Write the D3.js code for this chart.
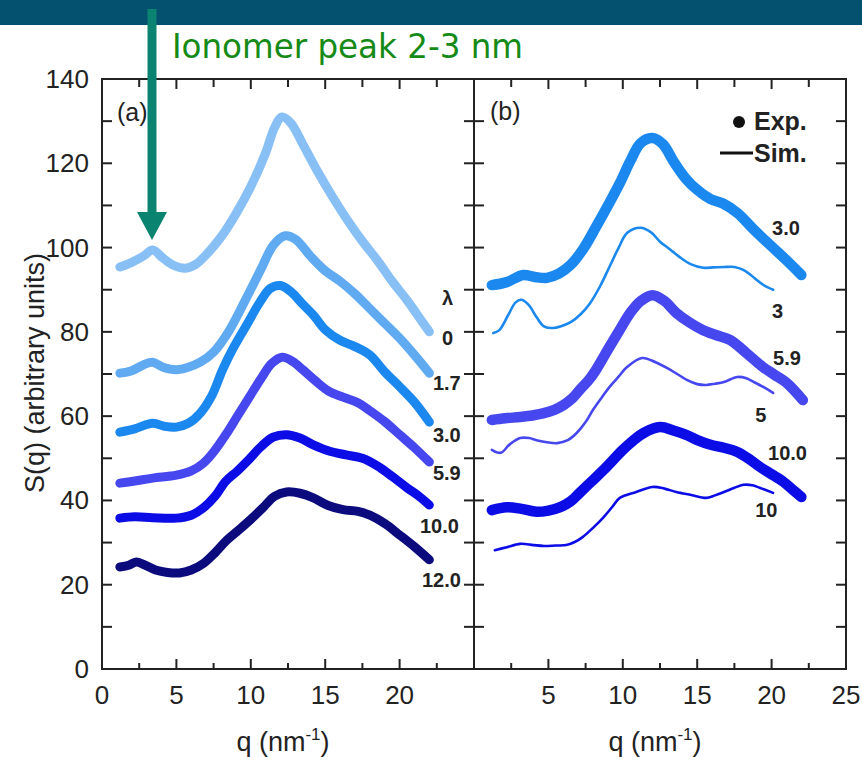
<!DOCTYPE html>
<html>
<head>
<meta charset="utf-8">
<script src="https://cdn.jsdelivr.net/npm/d3@7"></script>
<style>
  body { margin: 0; background: #fff; }
  text { font-family: "Liberation Sans", Arial, sans-serif; fill: #222; }
</style>
</head>
<body>
<div id="graph"></div>
<script>
// ---- data ----
// panel (a): experimental S(q) for each water content lambda
var lambdaA = ["0", "1.7", "3.0", "5.9", "10.0", "12.0"];
var expA_0 = [[1.2,95.4],[2,96.5],[2.8,98],[3.4,99.4],[4.1,97.5],[4.8,95.8],[5.6,95.1],[6.3,96],[7,98.3],[8,102.5],[9,108],[10,114.5],[11,122.5],[11.6,128.5],[12.1,131],[12.7,129.5],[13.5,124.5],[14.5,118],[15.5,112],[16.5,106.5],[17.5,101.5],[18.5,97],[19.5,92],[20.5,87.5],[21.5,82.5],[22,80]];
var expA_17 = [[1.2,70.2],[2,70.8],[2.8,72.2],[3.4,72.8],[4.1,71.6],[5,71],[5.8,71.6],[6.6,72.8],[7.5,75.2],[8.5,80],[9.7,88],[10.7,95],[11.5,100.5],[12.3,102.8],[13,102],[14,98],[15,94.5],[16,92],[17,89],[18,85.5],[19,82],[20,78.5],[21,74.5],[22,70.2]];
var expA_30 = [[1.2,56.2],[2.2,57],[3.4,58.3],[4.2,57.6],[5,57.4],[5.8,58.3],[6.6,60.7],[7.4,65],[8.1,71],[8.8,76],[9.7,81.5],[10.6,87],[11.3,90.3],[12,91],[12.7,89.5],[13.5,86.5],[14.2,84],[15,80.5],[16,78],[17,76.5],[18,74.5],[19,70.5],[20,67],[21,63.3],[22,58.6]];
var expA_59 = [[1.2,44.1],[2.2,44.6],[3.4,45.3],[5,46],[6,47],[6.8,48.8],[7.5,51.5],[8.3,55.5],[9.1,60],[9.9,64.5],[10.7,69],[11.4,72.5],[12.1,74],[12.8,73],[13.5,71],[14.3,68.5],[15.2,66],[16.2,64.5],[17.2,63.2],[18,61.3],[19,58.7],[20,55.6],[21,52.5],[22,49.1]];
var expA_100 = [[1.2,35.8],[2.2,36.1],[3.4,35.9],[5,35.8],[6,36.5],[6.8,38.2],[7.6,41],[8.3,44.5],[9.1,47],[9.9,49.8],[10.7,52.8],[11.5,55],[12.4,55.6],[13.3,54.8],[14.2,53.2],[15.2,51.8],[16.4,50.8],[17.5,50],[18.5,48.2],[19.5,45.7],[20.5,43],[21.3,41],[22,38.9]];
var expA_120 = [[1.2,24.2],[1.8,24.6],[2.3,25.4],[2.8,24.8],[3.6,23.5],[4.4,22.9],[5.2,22.8],[6,23.5],[6.8,25],[7.6,27.6],[8.4,30.6],[9.2,33],[10,35.5],[10.8,38.2],[11.6,41],[12.4,42],[13.3,41.7],[14.2,40.6],[15.2,38.8],[16.2,37.8],[17.2,37.4],[18,36.5],[19,34.5],[20,31.8],[21,29],[22,25.9]];

// panel (b): experiment vs simulation
var lambdaB = ["3.0", "5.9", "10.0"];
var simLabelsB = ["3", "5", "10"];
var expB_30 = [[1.2,91.1],[2.2,91.8],[3.3,93.5],[4.1,93],[4.9,92.8],[5.7,93.8],[6.5,95.9],[7.4,100],[8.2,104.9],[9,110],[9.8,115.3],[10.5,120.5],[11.2,124.8],[12,126],[12.7,124.5],[13.4,120.5],[14.2,116.5],[15,113.7],[15.9,111.5],[16.7,110.5],[17.7,108.2],[18.8,104.3],[19.9,100.6],[21,97],[22,93.5]];
var simB_3 = [[1.3,79.7],[1.7,80.4],[2.3,84],[2.8,87],[3.2,87.6],[3.7,86.3],[4.2,83.5],[4.7,81.3],[5.3,80.9],[5.9,81.4],[6.5,82.3],[7.2,84.3],[7.8,86.8],[8.5,91],[9.1,95.4],[9.7,99.8],[10.3,103.5],[11.2,104.7],[11.9,103.6],[12.5,101.4],[13.2,99.5],[13.8,97.8],[14.6,96],[15.4,95.2],[16.1,95.3],[16.8,95.4],[17.5,95.4],[18.1,94.7],[18.6,93.5],[19,92.3],[19.5,91],[20.1,90]];
var expB_59 = [[1.2,59.1],[2.1,59.5],[3.1,59.8],[4,60.2],[4.7,60.7],[5.4,61.5],[6,62.6],[6.6,64.2],[7.1,66.2],[7.7,68.5],[8.2,71],[9.1,76.4],[9.8,80.5],[10.5,84.5],[11.2,87.3],[12,88.7],[12.8,87.3],[13.6,84.5],[14.5,82.2],[15.4,80.4],[16.3,79.2],[17.2,78.1],[18.3,75],[19.4,71.7],[20.2,69.8],[21,67.9],[22.1,63.8]];
var simB_5 = [[1.2,52],[1.8,51.3],[2.4,53.3],[3.1,54.8],[3.7,54.8],[4.2,54.3],[4.9,53.8],[5.6,53.6],[6.3,54.3],[6.9,56],[7.5,58.6],[8,61.5],[8.6,64.5],[9.1,66.9],[9.7,69.3],[10.3,71.7],[11.3,73.8],[12.2,72.8],[13.2,71],[14.3,68.6],[15,67.6],[15.6,67.4],[16.2,67.7],[16.8,68.1],[17.7,69.3],[18.3,69],[18.8,68.1],[19.5,66.8],[20.1,65.5]];
var expB_100 = [[1.2,37.7],[2.2,38.4],[3.2,38],[4.2,37.3],[5,37.6],[5.8,38.4],[6.5,39.8],[7.1,41.8],[7.9,44.5],[8.7,47.2],[10,52],[10.7,54.2],[11.4,56],[12.5,57.4],[13.4,56.6],[14.3,55.5],[15.1,54.2],[15.9,53.2],[16.8,52.5],[17.7,51.5],[18.5,49.8],[19.2,48],[20,46.2],[20.8,44.4],[21.4,42.6],[22,40.8]];
var simB_10 = [[1.4,28.2],[2.2,28.9],[3.1,29.7],[4,29.4],[4.7,29.2],[5.5,29.3],[6.2,29.4],[6.8,30.2],[7.3,31.3],[8,33.5],[8.7,36],[9.3,38.5],[9.8,40.6],[10.9,42],[12,43.2],[12.8,42.8],[13.6,42],[14.6,41.3],[15.6,40.6],[16.2,41.2],[16.8,42],[17.5,43],[18.1,43.7],[18.7,43.6],[19.2,43],[20.1,41.8]];

// axis ticks
var xTicksA = [0, 5, 10, 15, 20];
var xTicksB = [5, 10, 15, 20, 25];
var yTicks = [0, 20, 40, 60, 80, 100, 120, 140];

// where the labels start, in data units [q, S] (left edge, baseline)
var lambdaHeadPos = [22.85, 86.4];
var labelPosA = [[22.85,76.9],[22.24,66.2],[22.24,53.9],[22.24,44.9],[21.37,32.3],[21.5,19.5]];
var labelPosB = [[20.03,103],[20.1,72.1],[19.76,49.6]];
var simLabelPosB = [[20.03,83.3],[18.9,58.6],[18.9,36.1]];

// colours
var colA = ["#88c0f5", "#60aaf1", "#1a88ee", "#4747ef", "#0c0ce6", "#0b0b7e"];
var colB = ["#1a88ee", "#4747ef", "#0c0ce6"];

// ---- layout ----
var W = 862, H = 757;
var margin = { top: 79, left: 102, bottom: 88 };
var panelW = 372;
var plotH = H - margin.top - margin.bottom;

var svg = d3.select("#graph").append("svg")
    .attr("width", W)
    .attr("height", H);

svg.append("rect").attr("width", W).attr("height", H).attr("fill", "#fff");
// banner on top
svg.append("rect").attr("x", 0).attr("y", 0).attr("width", W).attr("height", 25).attr("fill", "#04506f");

var y = d3.scaleLinear().domain([0, 140]).range([margin.top + plotH, margin.top]);
var xA = d3.scaleLinear().domain([0, 25]).range([margin.left, margin.left + panelW]);
var xB = d3.scaleLinear().domain([0, 25]).range([margin.left + panelW, margin.left + 2 * panelW]);

function drawAxes(x, ticks) {
    var x0 = x.range()[0], x1 = x.range()[1];
    var top = y(140), bot = y(0);
    var g = svg.append("g").attr("stroke", "#222").attr("stroke-width", 2);
    // frame
    g.append("rect").attr("x", x0).attr("y", top).attr("width", x1 - x0).attr("height", bot - top)
        .attr("fill", "none");
    // x ticks, bottom and top, pointing inward
    d3.range(0, 25.01, 2.5).forEach(function(v) {
        var major = v % 5 === 0;
        g.append("line").attr("x1", x(v)).attr("x2", x(v))
            .attr("y1", bot).attr("y2", bot - (major ? 10 : 6));
        g.append("line").attr("x1", x(v)).attr("x2", x(v))
            .attr("y1", top).attr("y2", top + (major ? 10 : 8));
    });
    // y ticks both sides
    d3.range(0, 140.01, 10).forEach(function(v) {
        g.append("line").attr("x1", x0).attr("x2", x0 + 10).attr("y1", y(v)).attr("y2", y(v));
        g.append("line").attr("x1", x1).attr("x2", x1 - 10).attr("y1", y(v)).attr("y2", y(v));
    });
    svg.append("g").selectAll("text").data(ticks).enter().append("text")
        .attr("x", function(d) { return x(d); })
        .attr("y", bot + 35)
        .attr("text-anchor", "middle")
        .attr("font-size", 26)
        .text(function(d) { return d; });
    // axis title
    var t = svg.append("text")
        .attr("x", (x0 + x1) / 2 - 5)
        .attr("y", H - 6)
        .attr("text-anchor", "middle")
        .attr("font-size", 27);
    t.append("tspan").text("q (nm");
    t.append("tspan").attr("font-size", 17).attr("dy", -11).text("-1");
    t.append("tspan").attr("dy", 11).text(")");
}

drawAxes(xA, xTicksA);
drawAxes(xB, xTicksB);

svg.append("g").selectAll("text").data(yTicks).enter().append("text")
    .attr("x", margin.left - 13)
    .attr("y", function(d) { return y(d) + 9; })
    .attr("text-anchor", "end")
    .attr("font-size", 26)
    .text(function(d) { return d; });

svg.append("text")
    .attr("transform", "translate(44," + (margin.top + plotH / 2 - 1) + ") rotate(-90)")
    .attr("text-anchor", "middle")
    .attr("font-size", 27)
    .text("S(q) (arbitrary units)");

// ---- curves ----
function lineFor(x) {
    return d3.line()
        .x(function(d) { return x(d[0]); })
        .y(function(d) { return y(d[1]); })
        .curve(d3.curveCatmullRom.alpha(0.5));
}
var lineA = lineFor(xA), lineB = lineFor(xB);

var seriesA = [expA_0, expA_17, expA_30, expA_59, expA_100, expA_120];
seriesA.forEach(function(s, i) {
    svg.append("path").attr("d", lineA(s)).attr("fill", "none")
        .attr("stroke", colA[i]).attr("stroke-width", 9)
        .attr("stroke-linecap", "round").attr("stroke-linejoin", "round");
});

var expB = [expB_30, expB_59, expB_100];
var simB = [simB_3, simB_5, simB_10];
expB.forEach(function(s, i) {
    svg.append("path").attr("d", lineB(s)).attr("fill", "none")
        .attr("stroke", colB[i]).attr("stroke-width", 10.5)
        .attr("stroke-linecap", "round").attr("stroke-linejoin", "round");
    svg.append("path").attr("d", lineB(simB[i])).attr("fill", "none")
        .attr("stroke", colB[i]).attr("stroke-width", 2.6)
        .attr("stroke-linecap", "round").attr("stroke-linejoin", "round");
});

// ---- labels ----
function boldLabel(x, pos, txt) {
    svg.append("text")
        .attr("x", x(pos[0])).attr("y", y(pos[1]))
        .attr("font-size", 20).attr("font-weight", "bold")
        .text(txt);
}
lambdaA.forEach(function(l, i) { boldLabel(xA, labelPosA[i], l); });
boldLabel(xA, lambdaHeadPos, "\u03bb");
lambdaB.forEach(function(l, i) { boldLabel(xB, labelPosB[i], l); });
simLabelsB.forEach(function(l, i) { boldLabel(xB, simLabelPosB[i], l); });

svg.append("text").attr("x", 117).attr("y", 121).attr("font-size", 25).text("(a)");
svg.append("text").attr("x", 490).attr("y", 120).attr("font-size", 25).text("(b)");

// legend
svg.append("circle").attr("cx", 739).attr("cy", 122).attr("r", 6).attr("fill", "#111");
svg.append("text").attr("x", 754).attr("y", 130).attr("font-size", 25).attr("font-weight", "bold").text("Exp.");
svg.append("line").attr("x1", 720).attr("x2", 753).attr("y1", 153).attr("y2", 153)
    .attr("stroke", "#111").attr("stroke-width", 3);
svg.append("text").attr("x", 754).attr("y", 162).attr("font-size", 25).attr("font-weight", "bold").text("Sim.");

// annotation: green title + teal arrow
svg.append("text")
    .attr("x", 172).attr("y", 58)
    .attr("textLength", 351).attr("lengthAdjust", "spacingAndGlyphs")
    .style("font-family", "'DejaVu Sans Condensed', 'DejaVu Sans', sans-serif")
    .style("font-size", "34px")
    .style("fill", "#168a16")
    .text("Ionomer peak 2-3 nm");

svg.append("rect").attr("x", 147.5).attr("y", 9).attr("width", 9).attr("height", 205).attr("fill", "#0a8370");
svg.append("path").attr("d", "M137,212 L167,212 L152,240 Z").attr("fill", "#0a8370");
</script>
</body>
</html>
